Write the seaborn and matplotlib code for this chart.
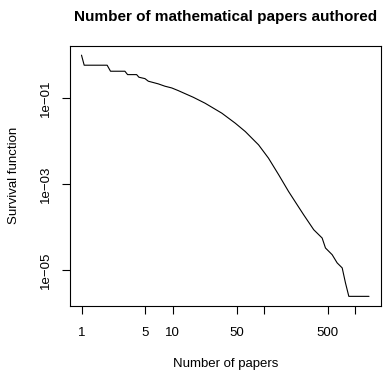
import numpy as np
import pandas as pd
import matplotlib
matplotlib.use("Agg")
import matplotlib.pyplot as plt
import seaborn as sns

# Data (survival function of number of papers)
papers = [1, 1.07, 1.91, 2.08, 2.99, 3.2, 4.02, 4.26, 4.96, 5.4, 6.95, 8.2, 9.75,
          11.5, 13.6, 16.8, 22.6, 34.5, 48.4, 62.4, 80.2, 87.2, 112, 145, 186,
          231, 272, 351, 434, 472, 559, 634, 720, 782, 851, 1416]
survival = [1.0, 0.584, 0.584, 0.423, 0.423, 0.353, 0.353, 0.307, 0.285, 0.248,
            0.215, 0.19, 0.173, 0.15, 0.128, 0.105, 0.0765, 0.0449, 0.0263,
            0.0168, 0.00984, 0.00825, 0.00405, 0.00166, 0.00068, 0.000334,
            0.000196, 8.79e-5, 5.64e-5, 3.31e-5, 2.31e-5, 1.49e-5, 1.14e-5,
            5.1e-6, 2.49e-6, 2.49e-6]

x_ticks = [1, 5, 10, 50, 100, 500, 1000]
x_tick_labels = ["1", "5", "10", "50", "", "500", ""]
y_ticks = [1e-5, 1e-3, 1e-1]
y_tick_labels = ["1e\u221205", "1e\u221203", "1e\u221201"]

title = "Number of mathematical papers authored"
xlabel = "Number of papers"
ylabel = "Survival function"

df = pd.DataFrame({"papers": papers, "survival": survival})

sns.set_style("white")
plt.rcParams["font.family"] = ["Liberation Sans", "DejaVu Sans"]
plt.rcParams["text.color"] = "black"
plt.rcParams["axes.labelcolor"] = "black"

W, H = 387, 372
fig = plt.figure(figsize=(W / 100, H / 100), dpi=100)
ax = fig.add_axes([70 / W, 1 - 306 / H, (380.5 - 70) / W, (306 - 45.5) / H])

sns.lineplot(data=df, x="papers", y="survival", ax=ax, estimator=None,
             sort=False, color="black", linewidth=0.8)

ax.set_xscale("log")
ax.set_yscale("log")

# R-style 4% padding on log axes
lx = np.log10(df["papers"])
ly = np.log10(df["survival"])
px = 0.04 * (lx.max() - lx.min())
py = 0.04 * (ly.max() - ly.min())
ax.set_xlim(10 ** (lx.min() - px), 10 ** (lx.max() + px))
ax.set_ylim(10 ** (ly.min() - py), 10 ** (ly.max() + py))

ax.set_xticks(x_ticks)
ax.set_xticklabels(x_tick_labels)
ax.set_yticks(y_ticks)
ax.set_yticklabels(y_tick_labels, rotation=90, va="center")
ax.minorticks_off()

ax.tick_params(axis="both", which="major", direction="out", length=6,
               width=0.8, color="black", labelsize=9.5, labelcolor="black",
               bottom=True, left=True, top=False, right=False)
ax.tick_params(axis="x", pad=9)
ax.tick_params(axis="y", pad=7)

for s in ax.spines.values():
    s.set_visible(True)
    s.set_color("black")
    s.set_linewidth(0.8)

ax.set_xlabel(xlabel, fontsize=9.5, labelpad=14, color="black")
ax.set_ylabel(ylabel, fontsize=9.5, labelpad=14, color="black")
ax.set_title(title, fontsize=11, fontweight="bold", pad=18, color="black")

fig.savefig("out.png", dpi=100)
